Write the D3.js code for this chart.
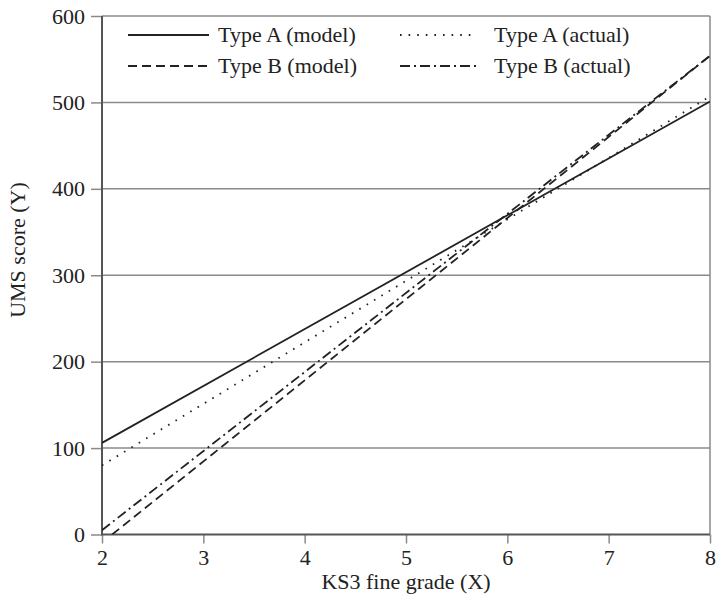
<!DOCTYPE html>
<html>
<head>
<meta charset="utf-8">
<script src="https://cdn.jsdelivr.net/npm/d3@7"></script>
<style>
  body { margin: 0; background: #fff; }
  svg text { font-family: 'Liberation Serif', serif !important; font-size: 22px; }
</style>
</head>
<body>
<svg id="chart" width="717" height="603"></svg>
<script>
var seriesNames = ["Type A (model)", "Type B (model)", "Type A (actual)", "Type B (actual)"];
var typeAModelX = [2, 8],   typeAModelY = [106, 501];
var typeBModelX = [2.1, 8], typeBModelY = [0, 554];
var typeAActualX = [2, 8],  typeAActualY = [80, 507];
var typeBActualX = [2, 8],  typeBActualY = [5, 554];

var xTicks = [2, 3, 4, 5, 6, 7, 8];
var yTicks = [0, 100, 200, 300, 400, 500, 600];

var TEXT_STYLE = "font-family:'Liberation Serif',serif;font-size:22px";

var svg = d3.select("#chart");
var margin = {top: 16, right: 7, bottom: 69, left: 102};
var width = 710 - margin.left, height = 534.5 - margin.top;

var x = d3.scaleLinear().domain([2, 8]).range([margin.left, margin.left + width]);
var y = d3.scaleLinear().domain([0, 600]).range([margin.top + height, margin.top]);

// grid lines
svg.append("g").selectAll("line").data(yTicks.filter(function(d) { return d > 0; }))
  .enter().append("line")
  .attr("x1", x(2)).attr("x2", x(8))
  .attr("y1", function(d) { return y(d); }).attr("y2", function(d) { return y(d); })
  .attr("stroke", "#8a8a8a").attr("stroke-width", 1.5);

// right border
svg.append("line")
  .attr("x1", x(8)).attr("x2", x(8)).attr("y1", y(600)).attr("y2", y(0))
  .attr("stroke", "#8a8a8a").attr("stroke-width", 1.5);

// axes
var yAxis = svg.append("g")
  .attr("transform", "translate(" + x(2) + ",0)")
  .call(d3.axisLeft(y).tickValues(yTicks).tickSize(11).tickPadding(6).tickFormat(d3.format("d")));
var xAxis = svg.append("g")
  .attr("transform", "translate(0," + y(0) + ")")
  .call(d3.axisBottom(x).tickValues(xTicks).tickSize(9).tickPadding(6).tickFormat(d3.format("d")));

[xAxis, yAxis].forEach(function(g) {
  g.attr("font-family", null).attr("font-size", null);
  g.select(".domain").remove();
  g.selectAll(".tick line").attr("stroke", "#8a8a8a").attr("stroke-width", 1.5);
  g.selectAll(".tick text").attr("fill", "#222").attr("style", TEXT_STYLE);
});

svg.append("line")
  .attr("x1", x(2)).attr("x2", x(2)).attr("y1", y(600)).attr("y2", y(0))
  .attr("stroke", "#555").attr("stroke-width", 2);
svg.append("line")
  .attr("x1", x(2) - 1).attr("x2", x(8)).attr("y1", y(0)).attr("y2", y(0))
  .attr("stroke", "#555").attr("stroke-width", 2);

// axis titles
svg.append("text")
  .attr("x", (x(2) + x(8)) / 2).attr("y", 589)
  .attr("text-anchor", "middle").attr("style", TEXT_STYLE).attr("fill", "#222")
  .text("KS3 fine grade (X)");
svg.append("text")
  .attr("transform", "translate(25,250) rotate(-90)")
  .attr("text-anchor", "middle").attr("style", TEXT_STYLE).attr("fill", "#222")
  .text("UMS score (Y)");

// series lines
var styles = [
  {xs: typeAModelX, ys: typeAModelY, dash: null},
  {xs: typeBModelX, ys: typeBModelY, dash: "9,5"},
  {xs: typeAActualX, ys: typeAActualY, dash: "1.6,7"},
  {xs: typeBActualX, ys: typeBActualY, dash: "10,4,2,4"}
];

var line = d3.line()
  .x(function(d) { return x(d[0]); })
  .y(function(d) { return y(d[1]); });

svg.append("defs").append("clipPath").attr("id", "clip")
  .append("rect").attr("x", x(2)).attr("y", y(600)).attr("width", width).attr("height", height);

var plot = svg.append("g").attr("clip-path", "url(#clip)");
styles.forEach(function(s) {
  plot.append("path")
    .datum(d3.zip(s.xs, s.ys))
    .attr("d", line)
    .attr("fill", "none")
    .attr("stroke", "#222")
    .attr("stroke-width", 1.8)
    .attr("stroke-dasharray", s.dash);
});

// legend
var legendPos = [
  {lx: 128, tx: 218, y: 35},
  {lx: 128, tx: 218, y: 66},
  {lx: 400, tx: 494, y: 35},
  {lx: 400, tx: 494, y: 66}
];
var legend = svg.append("g");
seriesNames.forEach(function(name, i) {
  var p = legendPos[i];
  legend.append("line")
    .attr("x1", p.lx).attr("x2", p.lx + (i < 2 ? 81 : 77))
    .attr("y1", p.y).attr("y2", p.y)
    .attr("stroke", "#222").attr("stroke-width", 1.8)
    .attr("stroke-dasharray", styles[i].dash);
  legend.append("text")
    .attr("x", p.tx).attr("y", p.y + 7)
    .attr("style", TEXT_STYLE).attr("fill", "#222")
    .text(name);
});
</script>
</body>
</html>
